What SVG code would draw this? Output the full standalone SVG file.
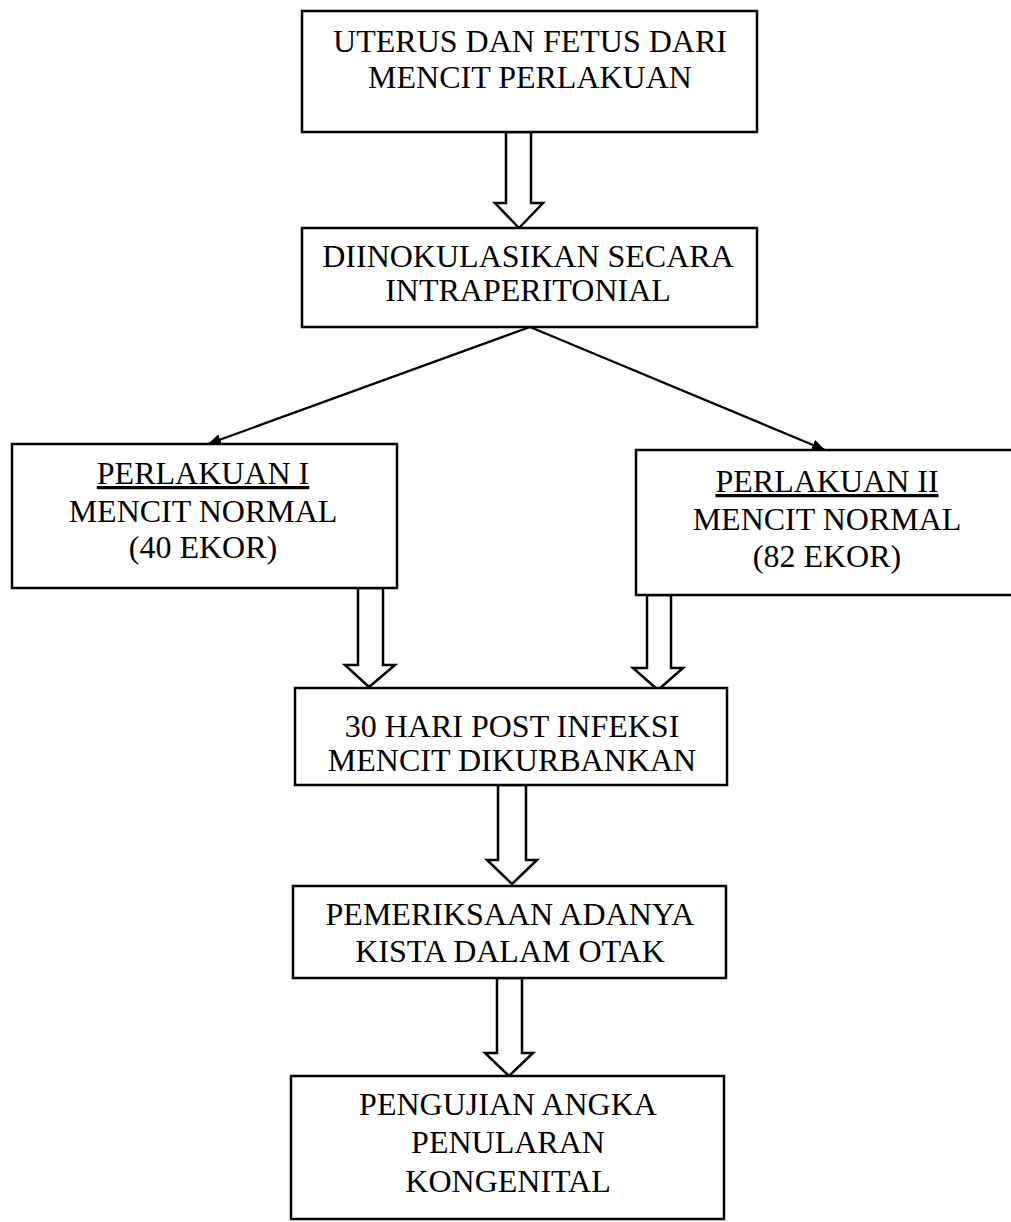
<svg xmlns="http://www.w3.org/2000/svg" width="1011" height="1222" viewBox="0 0 1011 1222">
<style>
.box{fill:#fff;stroke:#000;stroke-width:2.5}
.blk{fill:#fff;stroke:#000;stroke-width:2.5;stroke-linejoin:miter}
.con{fill:none;stroke:#000;stroke-width:2.2}
text{font-family:"Liberation Serif","Times New Roman",serif;font-size:32px;fill:#000;text-anchor:middle}
.u{text-decoration:underline}
</style>
<defs>
<marker id="ah" viewBox="0 0 13 11" refX="13" refY="5.5" markerWidth="13" markerHeight="11" markerUnits="userSpaceOnUse" orient="auto">
<path d="M0,0 L13,5.5 L0,11 Z" fill="#000"/>
</marker>
</defs>
<rect width="1011" height="1222" fill="#fff"/>
<g id="connectors">
<polygon class="blk" points="506,132 531,132 531,203 543,203 519,228 495,203 506,203"/>
<line class="con" x1="530" y1="327" x2="208" y2="444" marker-end="url(#ah)"/>
<line class="con" x1="530" y1="327" x2="825" y2="450" marker-end="url(#ah)"/>
<polygon class="blk" points="358,588 383,588 383,665 395,665 369,687 345,665 358,665"/>
<polygon class="blk" points="647,595 671,595 671,668 683,668 658,690 633,668 647,668"/>
<polygon class="blk" points="498,785 526,785 526,860 537,860 512,884 487,860 498,860"/>
<polygon class="blk" points="497,978 522,978 522,1053 533,1053 509,1076 485,1053 497,1053"/>
</g>
<g id="n1">
<rect class="box" x="302" y="11" width="455" height="121"/>
<text x="530" y="52">UTERUS DAN FETUS DARI</text>
<text x="530" y="88">MENCIT PERLAKUAN</text>
</g>
<g id="n2">
<rect class="box" x="302" y="228" width="455" height="99"/>
<text x="528" y="267">DIINOKULASIKAN SECARA</text>
<text x="528" y="301">INTRAPERITONIAL</text>
</g>
<g id="n3">
<rect class="box" x="12" y="444" width="385" height="144"/>
<text class="u" x="203" y="484">PERLAKUAN I</text>
<text x="203" y="522">MENCIT NORMAL</text>
<text x="203" y="558">(40 EKOR)</text>
</g>
<g id="n4">
<rect class="box" x="636" y="450" width="385" height="145"/>
<text class="u" x="827" y="492">PERLAKUAN II</text>
<text x="827" y="530">MENCIT NORMAL</text>
<text x="827" y="567">(82 EKOR)</text>
</g>
<g id="n5">
<rect class="box" x="295" y="688" width="432" height="97"/>
<text x="512" y="737">30 HARI POST INFEKSI</text>
<text x="512" y="771">MENCIT DIKURBANKAN</text>
</g>
<g id="n6">
<rect class="box" x="293" y="886" width="433" height="92"/>
<text x="510" y="925">PEMERIKSAAN ADANYA</text>
<text x="510" y="962">KISTA DALAM OTAK</text>
</g>
<g id="n7">
<rect class="box" x="291" y="1076" width="433" height="143"/>
<text x="508" y="1115">PENGUJIAN ANGKA</text>
<text x="508" y="1153">PENULARAN</text>
<text x="508" y="1192">KONGENITAL</text>
</g>
</svg>
